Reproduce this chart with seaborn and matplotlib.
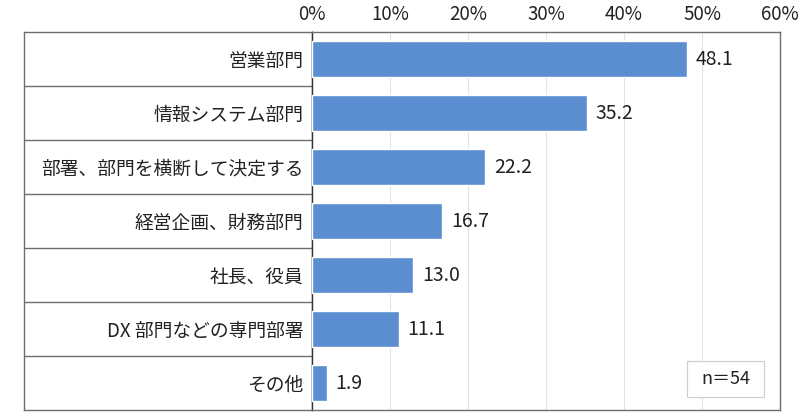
import matplotlib
matplotlib.use("Agg")
import matplotlib.pyplot as plt
from matplotlib.patches import Rectangle
import seaborn as sns
import pandas as pd

# data
categories = ["営業部門", "情報システム部門", "部署、部門を横断して決定する",
              "経営企画、財務部門", "社長、役員", "DX 部門などの専門部署", "その他"]
values = [48.1, 35.2, 22.2, 16.7, 13.0, 11.1, 1.9]
x_ticks = [0, 10, 20, 30, 40, 50, 60]
note = "n＝54"

sns.set_theme(style="white")
plt.rcParams['font.family'] = ['Noto Sans CJK JP', 'DejaVu Sans']

df = pd.DataFrame({"category": categories, "value": values})

fig = plt.figure(figsize=(8, 4.2), dpi=100)
ax = fig.add_axes([312/800, 10/420, 468/800, 378/420])
# label table on the left
ax_tab = fig.add_axes([24/800, 10/420, 288/800, 378/420], zorder=-1)

sns.barplot(data=df, x="value", y="category", color="#5A8ED0", width=0.67,
            saturation=1, ax=ax, zorder=3)

ax.set_xlim(0, 60)
ax.set_xticks(x_ticks)
ax.set_xticklabels([f"{t}%" for t in x_ticks], fontsize=13.5)
ax.xaxis.tick_top()
ax.tick_params(axis="x", length=0, pad=5, colors="#222222")
ax.tick_params(axis="y", length=0, pad=6, labelsize=13.5, colors="#222222")
ax.set_xlabel("")
ax.set_ylabel("")
ax.grid(axis="x", color="#e3e3e3", lw=0.8, zorder=0)
for s in ax.spines.values():
    s.set_color("#6e6e6e")
    s.set_linewidth(1.0)
ax.spines["left"].set_color("#333333")

for i, v in enumerate(values):
    ax.text(v + 1.1, i, f"{v:.1f}", va="center", ha="left", fontsize=14, color="#222222")

# table box and row separators
ax_tab.set_xlim(0, 1)
ax_tab.set_ylim(ax.get_ylim())
for i in range(len(categories) - 1):
    ax_tab.axhline(i + 0.5, color="#6e6e6e", lw=1.0)
ax_tab.set_xticks([])
ax_tab.set_yticks([])
for s in ax_tab.spines.values():
    s.set_color("#6e6e6e")
    s.set_linewidth(1.0)

# sample size box
ax.add_patch(Rectangle((0.801, 0.034), 0.165, 0.096, transform=ax.transAxes,
                       fc="white", ec="#d0d0d0", lw=0.9, zorder=5))
ax.text(0.8835, 0.082, note, transform=ax.transAxes, ha="center", va="center",
        fontsize=13, color="#222222", zorder=6)

fig.savefig("out.png", dpi=100)
